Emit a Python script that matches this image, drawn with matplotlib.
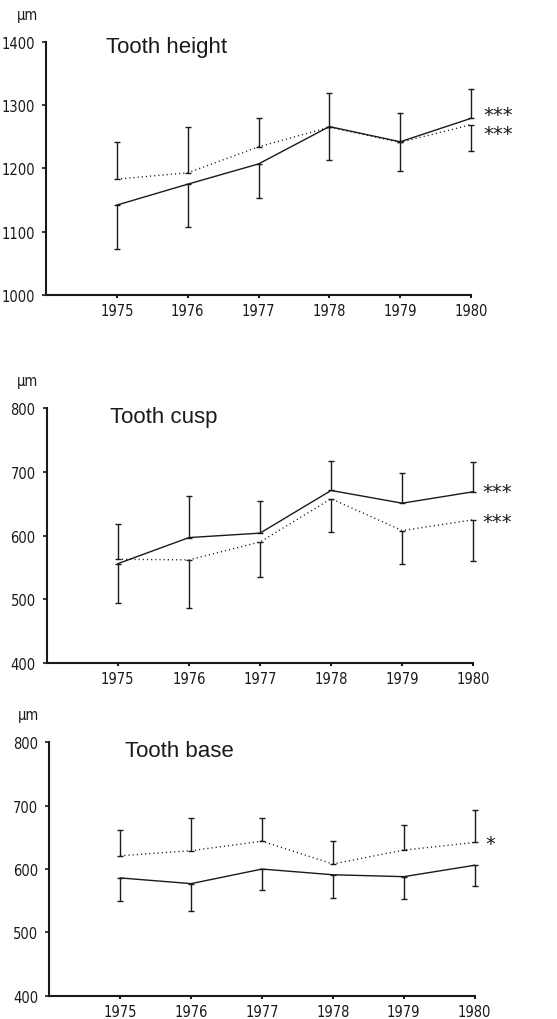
import matplotlib
matplotlib.use("Agg")
import matplotlib.pyplot as plt
import matplotlib.transforms as mtransforms
import numpy as np

# ---- data -------------------------------------------------------------
years = [1975, 1976, 1977, 1978, 1979, 1980]

height_solid = [1142, 1175, 1207, 1266, 1242, 1279]
height_solid_sd = [69, 67, 54, 53, 46, 46]
height_dotted = [1183, 1193, 1234, 1265, 1241, 1269]
height_dotted_sd = [59, 72, 46, 51, 45, 42]

cusp_solid = [556, 597, 604, 671, 651, 669]
cusp_solid_sd = [62, 66, 50, 46, 47, 46]
cusp_dotted = [563, 562, 590, 658, 608, 625]
cusp_dotted_sd = [55, 75, 55, 53, 52, 65]

base_solid = [586, 577, 600, 591, 588, 606]
base_solid_sd = [36, 43, 33, 36, 36, 32]
base_dotted = [621, 629, 644, 608, 630, 642]
base_dotted_sd = [40, 51, 37, 37, 39, 51]

titles = ["Tooth height", "Tooth cusp", "Tooth base"]
ylims = [(1000, 1400), (400, 800), (400, 800)]
yticks = [[1000, 1100, 1200, 1300, 1400],
          [400, 500, 600, 700, 800],
          [400, 500, 600, 700, 800]]
unit_label = "µm"
stars = [["***", "***"], ["***", "***"], ["*"]]
star_y = [[1291, 1262], [676, 629], [647]]
star_x = [1980.39, 1980.33, 1980.22]

# ---- style --------------------------------------------------------------
INK = "#1a1a1a"
TICK_FONT = ["DejaVu Sans"]
TITLE_FONT = ["Liberation Sans", "DejaVu Sans"]

fig = plt.figure(figsize=(5.57, 10.20), dpi=100)

# axes boxes in figure fractions [left, bottom, width, height]
boxes = [
    [0.0826, 0.7098, 0.7630, 0.2483],
    [0.0838, 0.3490, 0.7660, 0.2497],
    [0.0885, 0.0228, 0.7637, 0.2484],
]
title_pos = [(1974.85, 0.958), (1974.89, 0.947), (1975.07, 0.945)]
unit_pos = [(-0.068, 1.09), (-0.070, 1.091), (-0.074, 1.092)]

panels = [
    (height_solid, height_solid_sd, height_dotted, height_dotted_sd),
    (cusp_solid, cusp_solid_sd, cusp_dotted, cusp_dotted_sd),
    (base_solid, base_solid_sd, base_dotted, base_dotted_sd),
]

tick_kw = dict(family=TICK_FONT, fontstretch="condensed", fontsize=10.5,
               color=INK)

# the asterisk glyph sits high in its em box; nudge it down a little
star_shift = mtransforms.ScaledTranslation(0, -4 / 100, fig.dpi_scale_trans)

for i, (solid, solid_sd, dotted, dotted_sd) in enumerate(panels):
    ax = fig.add_axes(boxes[i])
    solid = np.asarray(solid, float)
    dotted = np.asarray(dotted, float)
    solid_sd = np.asarray(solid_sd, float)
    dotted_sd = np.asarray(dotted_sd, float)

    # one-sided bars: the higher mean points up, the lower one points down
    solid_up = solid >= dotted
    s_err = np.vstack([np.where(solid_up, 0, solid_sd),
                       np.where(solid_up, solid_sd, 0)])
    d_err = np.vstack([np.where(solid_up, dotted_sd, 0),
                       np.where(solid_up, 0, dotted_sd)])

    ax.plot(years, solid, color=INK, lw=1.0, clip_on=False)
    ax.plot(years, dotted, color=INK, lw=1.0, linestyle=(0, (0.8, 2.2)),
            clip_on=False)

    for vals, err in ((solid, s_err), (dotted, d_err)):
        cont = ax.errorbar(years, vals, yerr=err, fmt="none", ecolor=INK,
                           elinewidth=1.0, capsize=2.0, capthick=1.0)
        for child in cont.get_children():
            child.set_clip_on(False)

    ax.set_xlim(1974.0, 1980.0)
    ax.set_ylim(*ylims[i])
    ax.set_xticks(years)
    ax.set_yticks(yticks[i])
    ax.set_xticklabels([str(y) for y in years], **tick_kw)
    ax.set_yticklabels([str(v) for v in yticks[i]], **tick_kw)

    for side in ("top", "right"):
        ax.spines[side].set_visible(False)
    for side in ("left", "bottom"):
        ax.spines[side].set_linewidth(1.5)
        ax.spines[side].set_color(INK)
    ax.tick_params(axis="y", direction="out", length=3, width=1.2, pad=5,
                   colors=INK)
    ax.tick_params(axis="x", direction="out", length=2.5, width=1.5, pad=3.5,
                   colors=INK)

    tx, ty = title_pos[i]
    ax.text(tx, ty, titles[i], transform=ax.get_xaxis_transform(),
            family=TITLE_FONT, fontsize=16, color=INK, va="baseline",
            ha="left")
    ux, uy = unit_pos[i]
    ax.text(ux, uy, unit_label, transform=ax.transAxes, va="baseline",
            ha="left", clip_on=False, **tick_kw)

    for s, yv in zip(stars[i], star_y[i]):
        ax.text(star_x[i], yv, s, family=["DejaVu Sans"], fontsize=14,
                color=INK, ha="center", va="center", clip_on=False,
                transform=ax.transData + star_shift)

fig.savefig("out.png", dpi=100, facecolor="white")
